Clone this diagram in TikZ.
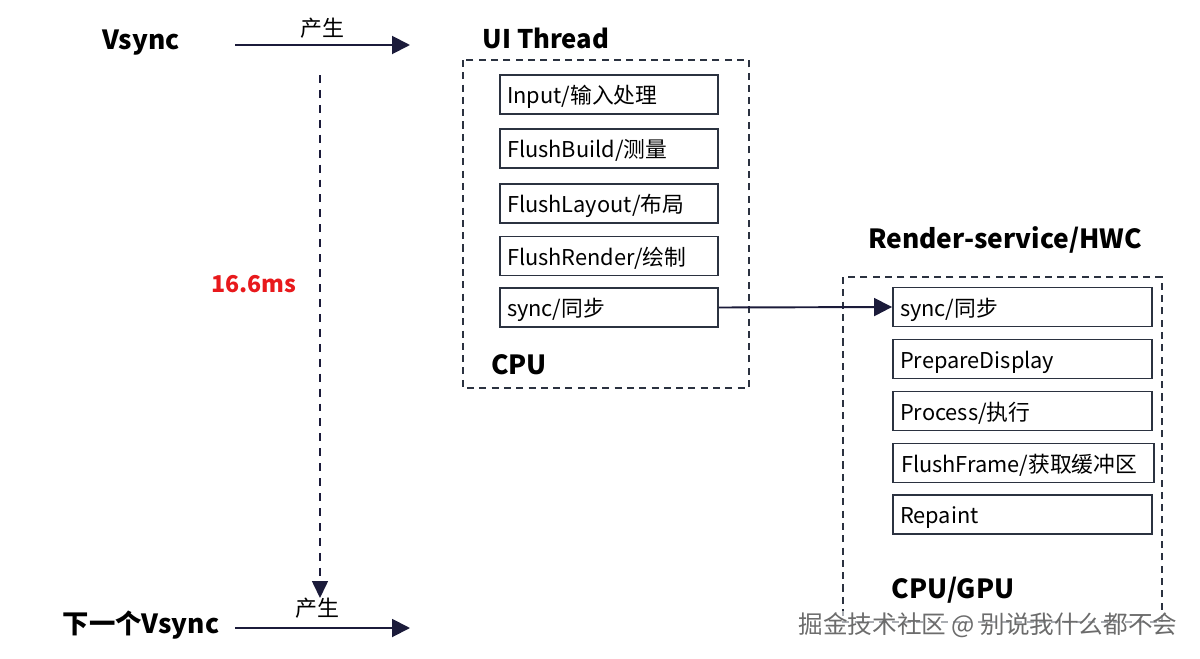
\documentclass[tikz,border=0pt]{standalone}
\usepackage{fontspec}
\setmainfont{Noto Sans CJK SC}
\usetikzlibrary{arrows.meta}
\definecolor{navy}{HTML}{1B1B3A}
\definecolor{boxc}{HTML}{2B3240}
\definecolor{redc}{HTML}{E8191C}
\begin{document}
\begin{tikzpicture}[x=0.02cm,y=-0.02cm,
  every node/.style={inner sep=0pt},
  stepbox/.style={draw=boxc, line width=1.1pt, minimum width=4.36cm, minimum height=0.78cm,
     text width=4.08cm, align=left, inner xsep=0.14cm, text height=10.4pt, text depth=-0.4pt,
     font=\fontsize{12.4}{14}\selectfont},
  groupbox/.style={draw=boxc, line width=0.9pt, dash pattern=on 4pt off 3pt},
  title/.style={font=\fontsize{15}{18}\selectfont\bfseries, text=black},
  lbl/.style={font=\fontsize{12.5}{15}\selectfont},
  arr/.style={draw=navy, line width=1.1pt, -{Triangle[length=0.36cm,width=0.36cm]}}]
\useasboundingbox (0,0) rectangle (1200,659);

% left time axis
\node[title] (vs) at (141,43) {Vsync};
\node[title] (nvs) at (141,625) {下一个Vsync};
\coordinate (a1s) at (235,45);
\coordinate (a1e) at (410,45);
\coordinate (a2s) at (235,628);
\coordinate (a2e) at (410,628);
\draw[arr] (a1s) -- (a1e) node[lbl, midway, above=3pt] (p1) {产生};
\draw[arr] (a2s) -- (a2e) node[lbl, midway, above=5pt, xshift=-3pt] (p2) {产生};
\coordinate (ds) at (320,75);
\coordinate (de) at (320,598);
\draw[arr, line width=0.9pt, dash pattern=on 4.5pt off 4pt, -{Triangle[length=0.34cm,width=0.32cm]}] (ds) -- (de);
\node[font=\fontsize{13.2}{16}\selectfont\bfseries, text=redc] (t166) at (254,284) {16.6ms};

% UI thread group
\node[title, font=\fontsize{14.6}{18}\selectfont\bfseries] (uit) at (546,38) {UI Thread};
\draw[groupbox] (463,60) rectangle (749,388);
\node[stepbox] (in) at (609,94.5) {Input/输入处理};
\node[stepbox] (fb) at (609,148.5) {FlushBuild/测量};
\node[stepbox] (fl) at (609,203.5) {FlushLayout/布局};
\node[stepbox] (fr) at (609,256) {FlushRender/绘制};
\node[stepbox] (sy1) at (609,307.5) {sync/同步};
\node[title] (cpu) at (519,365) {CPU};

% Render service group
\node[title] (rs) at (1005,240) {Render-service/HWC};
\draw[groupbox] (843,277) rectangle (1162,622);
\begin{scope}[stepbox/.append style={minimum width=5.18cm, text width=4.90cm}]
\node[stepbox] (sy2) at (1022.5,307) {sync/同步};
\node[stepbox] (pd) at (1022.5,359) {PrepareDisplay};
\node[stepbox] (pr) at (1022.5,411) {Process/执行};
\node[stepbox, minimum width=5.22cm] (ff) at (1023.5,463) {FlushFrame/获取缓冲区};
\node[stepbox] (rp) at (1022.5,514.5) {Repaint};
\end{scope}
\node[title] (cg) at (953,590) {CPU/GPU};

\draw[arr] (sy1.east) -- (sy2.west);

% watermark
\node[font=\fontsize{14}{16}\selectfont, text=gray!85!black, fill=white, fill opacity=0.6, text opacity=1, inner sep=1pt] (wm) at (988,625) {掘金技术社区 @ 别说我什么都不会};
\end{tikzpicture}
\end{document}
